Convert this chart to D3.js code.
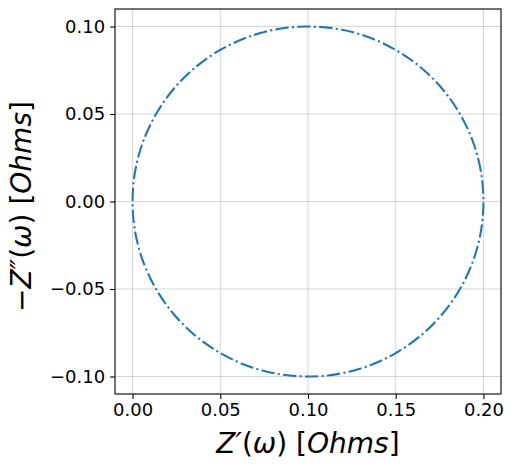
<!DOCTYPE html>
<html>
<head>
<meta charset="utf-8">
<script src="https://cdn.jsdelivr.net/npm/d3@7"></script>
<style>
  body { margin: 0; background: #fff; }
  svg { display: block; font-family: "DejaVu Sans", sans-serif; }
</style>
</head>
<body>
<script>
// Nyquist points (Z' and -Z'' in Ohms)
const zReal = [
  0.2000, 0.1985, 0.1940, 0.1866, 0.1766, 0.1643, 0.1500, 0.1342, 0.1174,
  0.1000, 0.0826, 0.0658, 0.0500, 0.0357, 0.0234, 0.0134, 0.0060, 0.0015,
  0.0000, 0.0015, 0.0060, 0.0134, 0.0234, 0.0357, 0.0500, 0.0658, 0.0826,
  0.1000, 0.1174, 0.1342, 0.1500, 0.1643, 0.1766, 0.1866, 0.1940, 0.1985
];
const zImag = [
  0.0000, 0.0174, 0.0342, 0.0500, 0.0643, 0.0766, 0.0866, 0.0940, 0.0985,
  0.1000, 0.0985, 0.0940, 0.0866, 0.0766, 0.0643, 0.0500, 0.0342, 0.0174,
  0.0000, -0.0174, -0.0342, -0.0500, -0.0643, -0.0766, -0.0866, -0.0940, -0.0985,
  -0.1000, -0.0985, -0.0940, -0.0866, -0.0766, -0.0643, -0.0500, -0.0342, -0.0174
];
const xTicks = [0.00, 0.05, 0.10, 0.15, 0.20];
const yTicks = [-0.10, -0.05, 0.00, 0.05, 0.10];

const width = 514;
const height = 469;
const plot = { left: 115, right: 501, top: 9, bottom: 394 };

const points = zReal.map((x, i) => ({ x: x, y: zImag[i] }));

const svg = d3.select("body")
  .append("svg")
  .attr("width", width)
  .attr("height", height);

const scaleX = d3.scaleLinear()
  .domain([-0.01, 0.21])
  .range([plot.left, plot.right]);
const scaleY = d3.scaleLinear()
  .domain([-0.11, 0.11])
  .range([plot.bottom, plot.top]);

const fmt = v => d3.format(".2f")(v).replace("-", "\u2212");

// grid
svg.append("g")
  .selectAll("line")
  .data(xTicks)
  .join("line")
  .attr("x1", d => scaleX(d))
  .attr("x2", d => scaleX(d))
  .attr("y1", plot.top)
  .attr("y2", plot.bottom)
  .attr("stroke", "#b0b0b0")
  .attr("stroke-opacity", 0.5)
  .attr("stroke-width", 1.1);

svg.append("g")
  .selectAll("line")
  .data(yTicks)
  .join("line")
  .attr("x1", plot.left)
  .attr("x2", plot.right)
  .attr("y1", d => scaleY(d))
  .attr("y2", d => scaleY(d))
  .attr("stroke", "#b0b0b0")
  .attr("stroke-opacity", 0.5)
  .attr("stroke-width", 1.1);

// the curve
const line = d3.line()
  .x(d => scaleX(d.x))
  .y(d => scaleY(d.y))
  .curve(d3.curveCatmullRomClosed);

svg.append("path")
  .datum(points)
  .attr("d", line)
  .attr("fill", "none")
  .attr("stroke", "#1f77b4")
  .attr("stroke-width", 2.08)
  .attr("stroke-dasharray", "13.3 3.3 2.1 3.3");

// axes
const xAxis = d3.axisBottom(scaleX)
  .tickValues(xTicks)
  .tickFormat(fmt)
  .tickSize(4.9)
  .tickPadding(4.5)
  .tickSizeOuter(0);
const yAxis = d3.axisLeft(scaleY)
  .tickValues(yTicks)
  .tickFormat(fmt)
  .tickSize(4.9)
  .tickPadding(5)
  .tickSizeOuter(0);

const gx = svg.append("g")
  .attr("transform", `translate(0,${plot.bottom})`)
  .call(xAxis);
const gy = svg.append("g")
  .attr("transform", `translate(${plot.left},0)`)
  .call(yAxis);

[gx, gy].forEach(g => {
  g.select(".domain").remove();
  g.selectAll(".tick line").attr("stroke", "#000").attr("stroke-width", 1.1);
  g.selectAll(".tick text")
    .attr("fill", "#000")
    .style("font-size", "18px")
    .style("font-family", "DejaVu Sans");
});

// frame
svg.append("rect")
  .attr("x", plot.left)
  .attr("y", plot.top)
  .attr("width", plot.right - plot.left)
  .attr("height", plot.bottom - plot.top)
  .attr("fill", "none")
  .attr("stroke", "#000")
  .attr("stroke-width", 1.1);

// labels
const addLabel = (sel, parts) => {
  parts.forEach(p => {
    sel.append("tspan")
      .style("font-style", p[1] ? "italic" : "normal")
      .text(p[0]);
  });
};

const xLabel = svg.append("text")
  .attr("x", (plot.left + plot.right) / 2)
  .attr("y", 453)
  .attr("text-anchor", "middle")
  .style("font-size", "28px");
addLabel(xLabel, [["Z\u2032", true], ["(", false], ["\u03c9", true], [") [", false], ["Ohms", true], ["]", false]]);

const yLabel = svg.append("text")
  .attr("transform", `translate(31,${(plot.top + plot.bottom) / 2 + 5}) rotate(-90)`)
  .attr("text-anchor", "middle")
  .style("font-size", "28px");
addLabel(yLabel, [["\u2212", false], ["Z\u2033", true], ["(", false], ["\u03c9", true], [") [", false], ["Ohms", true], ["]", false]]);
</script>
</body>
</html>
